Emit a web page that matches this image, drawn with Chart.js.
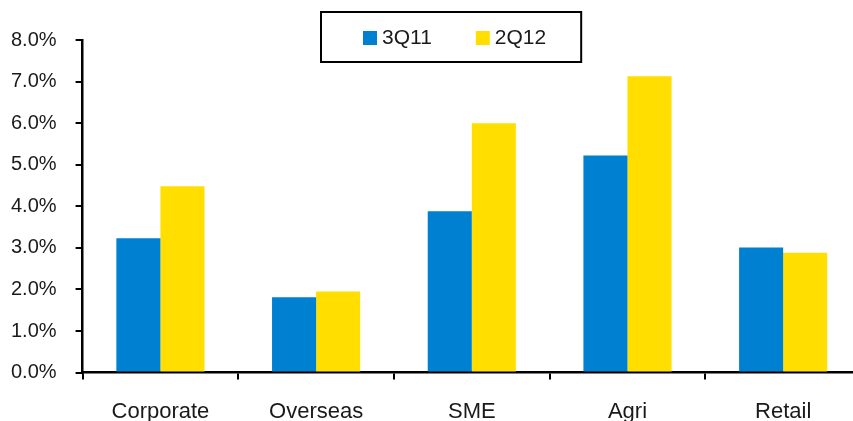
<!DOCTYPE html>
<html>
<head>
<meta charset="utf-8">
<script src="https://cdn.jsdelivr.net/npm/chart.js@4/dist/chart.umd.min.js"></script>
<style>
html,body{margin:0;padding:0;background:#fff;overflow:hidden;width:853px;height:421px;}
canvas{display:block;}
</style>
</head>
<body>
<canvas id="c" width="861" height="425" style="width:861px;height:425px"></canvas>
<script>
const categories = ["Corporate", "Overseas", "SME", "Agri", "Retail"];
const series3Q11 = [3.23, 1.81, 3.88, 5.22, 3.01];
const series2Q12 = [4.48, 1.95, 6.00, 7.13, 2.88];
const seriesNames = ["3Q11", "2Q12"];
const seriesColors = ["#0080D0", "#FFDE00"];
const yTicks = [0, 1, 2, 3, 4, 5, 6, 7, 8];

const FONT = "'Liberation Sans', Arial, sans-serif";

const boxLegend = {
  id: 'boxLegend',
  afterDraw(chart) {
    const ctx = chart.ctx;
    const ca = chart.chartArea;
    ctx.save();
    ctx.font = "21px " + FONT;
    const sq = 14, gap = 5, itemGap = 44, padL = 42, padR = 35;
    const widths = chart.data.datasets.map(d => sq + gap + ctx.measureText(d.label).width);
    const total = widths.reduce((a, b) => a + b, 0) + itemGap * (widths.length - 1);
    const boxW = total + padL + padR;
    const boxH = 50;
    const cx = (ca.left + ca.right) / 2 - 21;
    const x0 = Math.round(cx - boxW / 2);
    const y0 = ca.top - 28;
    ctx.fillStyle = '#fff';
    ctx.fillRect(x0, y0, boxW, boxH);
    ctx.strokeStyle = '#000';
    ctx.lineWidth = 2;
    ctx.strokeRect(x0, y0, boxW, boxH);
    let x = x0 + padL;
    const cy = y0 + boxH / 2;
    chart.data.datasets.forEach((d, i) => {
      ctx.fillStyle = d.backgroundColor;
      ctx.fillRect(x, cy - sq / 2 + 1, sq, sq);
      ctx.fillStyle = '#1a1a1a';
      ctx.textBaseline = 'middle';
      ctx.textAlign = 'left';
      ctx.fillText(d.label, x + sq + gap, cy + 1);
      x += widths[i] + itemGap;
    });
    ctx.restore();
  }
};

new Chart(document.getElementById('c'), {
  type: 'bar',
  data: {
    labels: categories,
    datasets: [
      { label: seriesNames[0], data: series3Q11, backgroundColor: seriesColors[0] },
      { label: seriesNames[1], data: series2Q12, backgroundColor: seriesColors[1] }
    ]
  },
  options: {
    responsive: false,
    animation: false,
    devicePixelRatio: 1,
    datasets: { bar: { categoryPercentage: 0.566, barPercentage: 1.0 } },
    layout: { padding: { top: 40, left: 11, right: 0, bottom: 0 } },
    plugins: {
      legend: { display: false },
      tooltip: { enabled: false }
    },
    scales: {
      x: {
        afterFit(s) { s.height -= s.options.ticks.padding; },
        grid: { drawOnChartArea: false, drawTicks: true, tickLength: 7, color: '#000', offset: true, lineWidth: 2 },
        border: { color: '#000', width: 2.5 },
        ticks: { color: '#1a1a1a', font: { family: FONT, size: 22 }, padding: 19 }
      },
      y: {
        min: 0, max: 8,
        afterFit(s) { s.width -= s.options.ticks.padding; },
        afterBuildTicks(axis) { axis.ticks = yTicks.map(v => ({ value: v })); },
        grid: { drawOnChartArea: false, drawTicks: true, tickLength: 7, color: '#000', lineWidth: 2 },
        border: { color: '#000', width: 2.5 },
        ticks: { color: '#1a1a1a', font: { family: FONT, size: 20 }, padding: 19,
          callback: v => Number(v).toFixed(1) + '%' }
      }
    }
  },
  plugins: [boxLegend]
});
</script>
</body>
</html>
